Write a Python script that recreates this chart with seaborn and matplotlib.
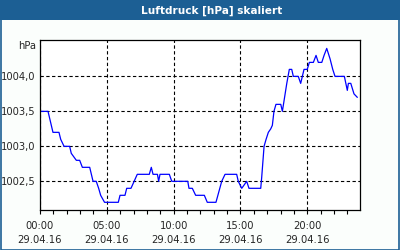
import matplotlib
matplotlib.use("Agg")
import matplotlib.pyplot as plt
from matplotlib.patches import Rectangle
import seaborn as sns
import pandas as pd

# Time (hours since 29.04.16 00:00) and air pressure (hPa)
hours = [0.0, 0.6, 0.97, 1.42, 1.55, 1.8, 2.22, 2.34, 2.72, 2.97, 3.17, 3.72,
         3.97, 4.21, 4.39, 4.54, 4.83, 5.86, 5.99, 6.36, 6.49, 6.81, 7.28, 8.18,
         8.33, 8.46, 8.79, 8.88, 8.98, 9.68, 9.86, 11.06, 11.15, 11.4, 11.65,
         12.3, 12.52, 13.17, 13.6, 13.85, 14.72, 14.84, 15.1, 15.47, 15.64,
         16.52, 16.59, 16.77, 16.92, 17.09, 17.27, 17.39, 17.51, 17.66, 18.02,
         18.14, 18.47, 18.66, 18.84, 18.96, 19.33, 19.51, 19.76, 20.0, 20.16,
         20.46, 20.66, 20.83, 21.09, 21.26, 21.46, 21.71, 21.91, 22.08, 22.78,
         23.0, 23.08, 23.26, 23.5, 23.75]
pressure = [1003.5, 1003.5, 1003.2, 1003.2, 1003.1, 1003.0, 1003.0, 1002.9,
            1002.8, 1002.8, 1002.7, 1002.7, 1002.5, 1002.5, 1002.4, 1002.3,
            1002.2, 1002.2, 1002.3, 1002.3, 1002.4, 1002.4, 1002.6, 1002.6,
            1002.7, 1002.6, 1002.6, 1002.5, 1002.6, 1002.6, 1002.5, 1002.5,
            1002.4, 1002.4, 1002.3, 1002.3, 1002.2, 1002.2, 1002.5, 1002.6,
            1002.6, 1002.5, 1002.4, 1002.5, 1002.4, 1002.4, 1002.55, 1003.0,
            1003.1, 1003.2, 1003.25, 1003.3, 1003.5, 1003.6, 1003.6, 1003.5,
            1003.9, 1004.1, 1004.1, 1004.0, 1004.0, 1003.9, 1004.1, 1004.1,
            1004.2, 1004.2, 1004.3, 1004.2, 1004.2, 1004.3, 1004.4, 1004.25,
            1004.1, 1004.0, 1004.0, 1003.8, 1003.9, 1003.9, 1003.75, 1003.7]

x_ticks = [0, 5, 10, 15, 20]
x_tick_labels = ["00:00\n29.04.16", "05:00\n29.04.16", "10:00\n29.04.16",
                 "15:00\n29.04.16", "20:00\n29.04.16"]
y_ticks = [1002.5, 1003.0, 1003.5, 1004.0]
y_tick_labels = ["1002,5", "1003,0", "1003,5", "1004,0"]
title = "Luftdruck [hPa] skaliert"
unit = "hPa"

df = pd.DataFrame({"h": hours, "p": pressure})

sns.set_style("white")
plt.rcParams["font.family"] = ["DejaVu Sans"]

W, H = 400, 250
fig = plt.figure(figsize=(4, 2.5), dpi=100)
fig.patch.set_facecolor("#fbfefc")

frame_col = "#1c5f94"
fig.patches.append(Rectangle((0, 1 - 20 / H), 1, 20 / H, transform=fig.transFigure,
                             facecolor=frame_col, edgecolor="none", zorder=0))
fig.patches.append(Rectangle((0.5 / W, 0.5 / H), 1 - 1.5 / W, 1 - 1.5 / H,
                             transform=fig.transFigure, facecolor="none",
                             edgecolor=frame_col, lw=1.2, zorder=0))
fig.text(212 / W, 1 - 10.5 / H, title, color="white", fontsize=7.6,
         fontweight="bold", ha="center", va="center")

ax = fig.add_axes([40 / W, 1 - 210 / H, 320 / W, 170 / H])
ax.set_facecolor("white")
sns.lineplot(data=df, x="h", y="p", ax=ax, color="#0000ff", lw=0.9)

ax.set_xlim(0, 23.95)
ax.set_ylim(1002.09, 1004.52)
ax.set_xticks(x_ticks)
ax.set_xticklabels(x_tick_labels, fontsize=7.2, linespacing=1.45)
ax.set_xticks(range(0, 24), minor=True)
ax.set_yticks(y_ticks)
ax.set_yticklabels(y_tick_labels, fontsize=7.2)
ax.set_xlabel("")
ax.set_ylabel("")

ax.tick_params(axis="x", which="both", direction="out", length=3, width=0.8,
               color="black", pad=5, bottom=True)
ax.tick_params(axis="y", which="both", length=0, pad=3)
ax.grid(True, which="major", color="black", linestyle=(0, (3, 2.2)), lw=0.8)
for s in ax.spines.values():
    s.set_visible(True)
    s.set_color("black")
    s.set_linewidth(0.9)

fig.text(36 / W, 1 - 46 / H, unit, fontsize=7.2, ha="right", va="center")

fig.savefig("out.png", dpi=100, facecolor=fig.get_facecolor())
